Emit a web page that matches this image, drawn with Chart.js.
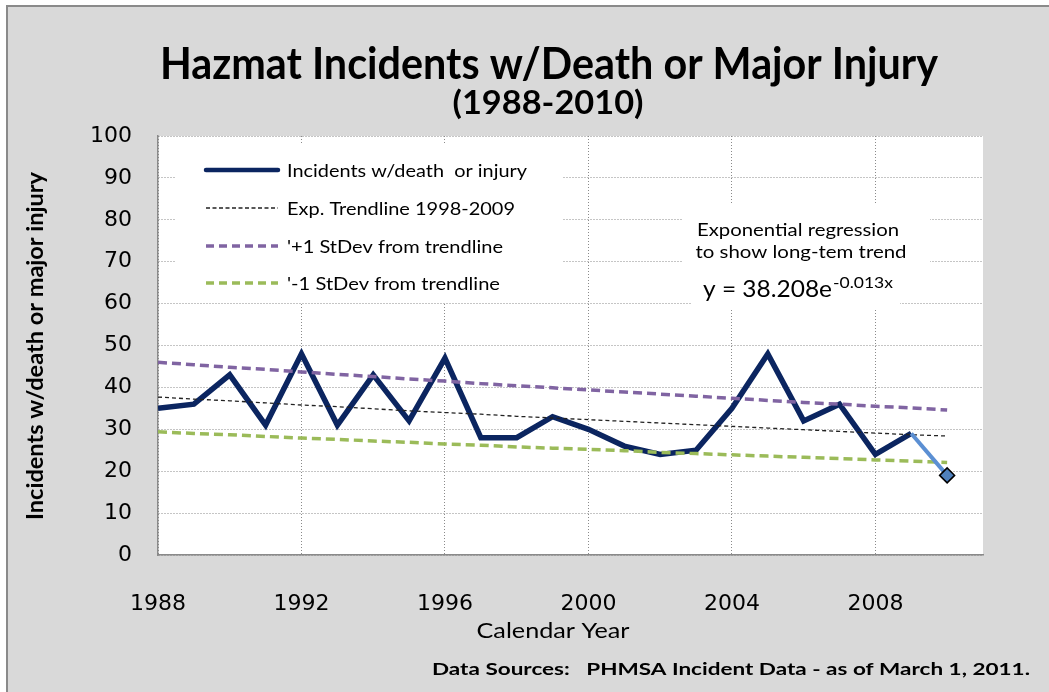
<!DOCTYPE html>
<html><head><meta charset="utf-8">
<script src="https://cdn.jsdelivr.net/npm/chart.js@4.4.1/dist/chart.umd.min.js"></script>
<style>html,body{margin:0;padding:0;background:#fff;overflow:hidden}canvas{display:block}</style>
</head><body>
<canvas id="c" width="1049" height="692"></canvas>
<script>
// ---- data ----
const years = [1988,1989,1990,1991,1992,1993,1994,1995,1996,1997,1998,1999,2000,2001,2002,2003,2004,2005,2006,2007,2008,2009,2010];
const incidents = [35,36,43,31,48,31,43,32,47,28,28,33,30,26,24,25,35,48,32,36,24,29,19];
const trendline = [37.7,37.2,36.8,36.3,35.8,35.4,34.9,34.4,34.0,33.6,33.1,32.7,32.3,31.9,31.5,31.1,30.7,30.3,29.9,29.5,29.1,28.7,28.4];
const plusOneSD = [46.0,45.4,44.8,44.3,43.7,43.1,42.6,42.0,41.5,40.9,40.4,39.9,39.4,38.9,38.4,37.9,37.4,36.9,36.4,36.0,35.5,35.1,34.6];
const minusOneSD = [29.4,29.0,28.7,28.3,27.9,27.6,27.2,26.9,26.5,26.2,25.8,25.5,25.2,24.9,24.5,24.2,23.9,23.6,23.3,23.0,22.7,22.4,22.1];
const xTickYears = [1988,1992,1996,2000,2004,2008];
const seriesNames = ['Incidents w/death  or injury','Exp. Trendline 1998-2009',"'+1 StDev from trendline","'-1 StDev from trendline"];

const W = 1049, H = 692;
const pts = arr => arr.map((v,i)=>({x: years[i], y: v}));
const mainPts = pts(incidents).slice(0, incidents.length-1);
const lastPts = pts(incidents).slice(incidents.length-2);

const NAVY = '#0b2560', PURPLE = '#8064a2', GREEN = '#9bbb59', LIGHTBLUE = '#5b8fd3';
const SANS = '"Lato", "Open Sans", sans-serif';

function fitText(ctx, text, x, y, font, width, align, color, rot, baseline) {
  ctx.save();
  ctx.font = font;
  ctx.fillStyle = color || '#000';
  ctx.textBaseline = baseline || 'alphabetic';
  const m = ctx.measureText(text).width;
  const s = width ? width / m : 1;
  ctx.translate(x, y);
  if (rot) ctx.rotate(rot);
  ctx.scale(s, 1);
  ctx.textAlign = align || 'left';
  ctx.fillText(text, 0, 0);
  ctx.restore();
}

const deco = {
  id: 'deco',
  beforeDraw(chart) {
    const ctx = chart.ctx, a = chart.chartArea;
    ctx.save();
    ctx.fillStyle = '#fff'; ctx.fillRect(0,0,W,H);
    ctx.fillStyle = '#d9d9d9'; ctx.fillRect(6,5,W,H);
    ctx.fillStyle = '#8a8a8a'; ctx.fillRect(6,5,W,2); ctx.fillRect(6,5,2,H);
    ctx.fillStyle = '#fff'; ctx.fillRect(a.left, a.top, a.right-a.left, a.bottom-a.top);
    ctx.restore();
  },
  beforeDatasetsDraw(chart) {
    const ctx = chart.ctx;
    ctx.save();
    ctx.fillStyle = '#fff';
    ctx.fillRect(176, 145, 386, 157);   // legend box
    ctx.fillRect(683, 205, 247, 64);    // annotation text box
    ctx.fillRect(692, 269, 208, 39);    // equation box
    ctx.restore();
  },
  afterDraw(chart) {
    const ctx = chart.ctx;
    // titles
    fitText(ctx, 'Hazmat Incidents w/Death or Major Injury', 549, 79, 'bold 43px ' + SANS, 778, 'center');
    fitText(ctx, '(1988-2010)', 548, 114, 'bold 33px ' + SANS, 191, 'center');
    fitText(ctx, 'Calendar Year', 553, 638, '22px ' + SANS, 153, 'center');
    fitText(ctx, 'Incidents w/death or major injury', 43, 346, 'bold 22px ' + SANS, 348, 'center', '#000', -Math.PI/2);
    fitText(ctx, 'Data Sources:   PHMSA Incident Data - as of March 1, 2011.', 1030, 675, 'bold 17px ' + SANS, 598, 'right');
    // legend
    const ys = [170, 208, 246, 283];
    const textW = [240, 228, 216, 213];
    const styles = [
      {c: NAVY, w: 4.5, d: []},
      {c: '#222', w: 1.3, d: [4, 2.5]},
      {c: PURPLE, w: 3.5, d: [8, 5]},
      {c: GREEN, w: 3.5, d: [8, 5]}
    ];
    ctx.save();
    for (let i = 0; i < 4; i++) {
      const st = styles[i];
      ctx.beginPath();
      ctx.lineWidth = st.w; ctx.strokeStyle = st.c; ctx.setLineDash(st.d);
      ctx.lineCap = i === 0 ? 'round' : 'butt';
      ctx.moveTo(206, ys[i]); ctx.lineTo(278, ys[i]); ctx.stroke();
      ctx.setLineDash([]);
    }
    ctx.restore();
    for (let i = 0; i < 4; i++) {
      fitText(ctx, seriesNames[i], 287, ys[i] + 1, '18px ' + SANS, textW[i], 'left', '#000', 0, 'middle');
    }
    // annotation
    fitText(ctx, 'Exponential regression', 798, 236, '18px ' + SANS, 202, 'center');
    fitText(ctx, 'to show long-tem trend', 801, 258, '18px ' + SANS, 211, 'center');
    fitText(ctx, 'y = 38.208e', 703, 297, '23px ' + SANS, 129, 'left');
    fitText(ctx, '-0.013x', 833, 288, '15px ' + SANS, 60, 'left');
  }
};

new Chart(document.getElementById('c'), {
  type: 'line',
  data: {
    datasets: [
      {label: seriesNames[3], data: pts(minusOneSD), borderColor: GREEN, borderWidth: 3.5, borderDash: [9,5], pointRadius: 0, order: 1, tension: 0},
      {label: seriesNames[2], data: pts(plusOneSD), borderColor: PURPLE, borderWidth: 3.5, borderDash: [9,5], pointRadius: 0, order: 2, tension: 0},
      {label: seriesNames[1], data: pts(trendline), borderColor: '#222', borderWidth: 1.3, borderDash: [4,3], pointRadius: 0, order: 3, tension: 0},
      {label: '2010', data: lastPts, borderColor: LIGHTBLUE, borderWidth: 4, pointStyle: 'rectRot',
        pointRadius: [0, 7.5], pointBackgroundColor: '#4f81bd', pointBorderColor: '#000', pointBorderWidth: 1.5, order: 0},
      {label: seriesNames[0], data: mainPts, borderColor: NAVY, borderWidth: 5.5, pointRadius: 0, order: 5, borderJoinStyle: 'miter', tension: 0}
    ]
  },
  options: {
    responsive: false,
    animation: false,
    devicePixelRatio: 1,
    layout: {padding: {left: 0, top: 136, right: 66, bottom: 0}},
    plugins: {legend: {display: false}, tooltip: {enabled: false}},
    scales: {
      x: {
        type: 'linear', min: 1988, max: 2011,
        afterBuildTicks: s => { s.ticks = xTickYears.map(v => ({value: v})); },
        afterFit: s => { s.height = 692 - 555; },
        grid: {color: '#8a8a8a', lineWidth: 1, drawTicks: false},
        border: {display: true, color: '#8a8a8a', width: 1.5, dash: [1, 2]},
        ticks: {padding: 36, color: '#000', font: {family: 'DejaVu Sans', size: 22}, callback: v => String(v), maxRotation: 0, autoSkip: false}
      },
      y: {
        min: 0, max: 100,
        afterFit: s => { s.width = 158; },
        grid: {color: '#8a8a8a', lineWidth: 1, drawTicks: false},
        border: {display: true, color: '#8a8a8a', width: 1.5, dash: [1, 2]},
        ticks: {stepSize: 10, padding: 26, color: '#000', font: {family: 'DejaVu Sans', size: 22}}
      }
    }
  },
  plugins: [deco]
});
</script>
</body></html>
